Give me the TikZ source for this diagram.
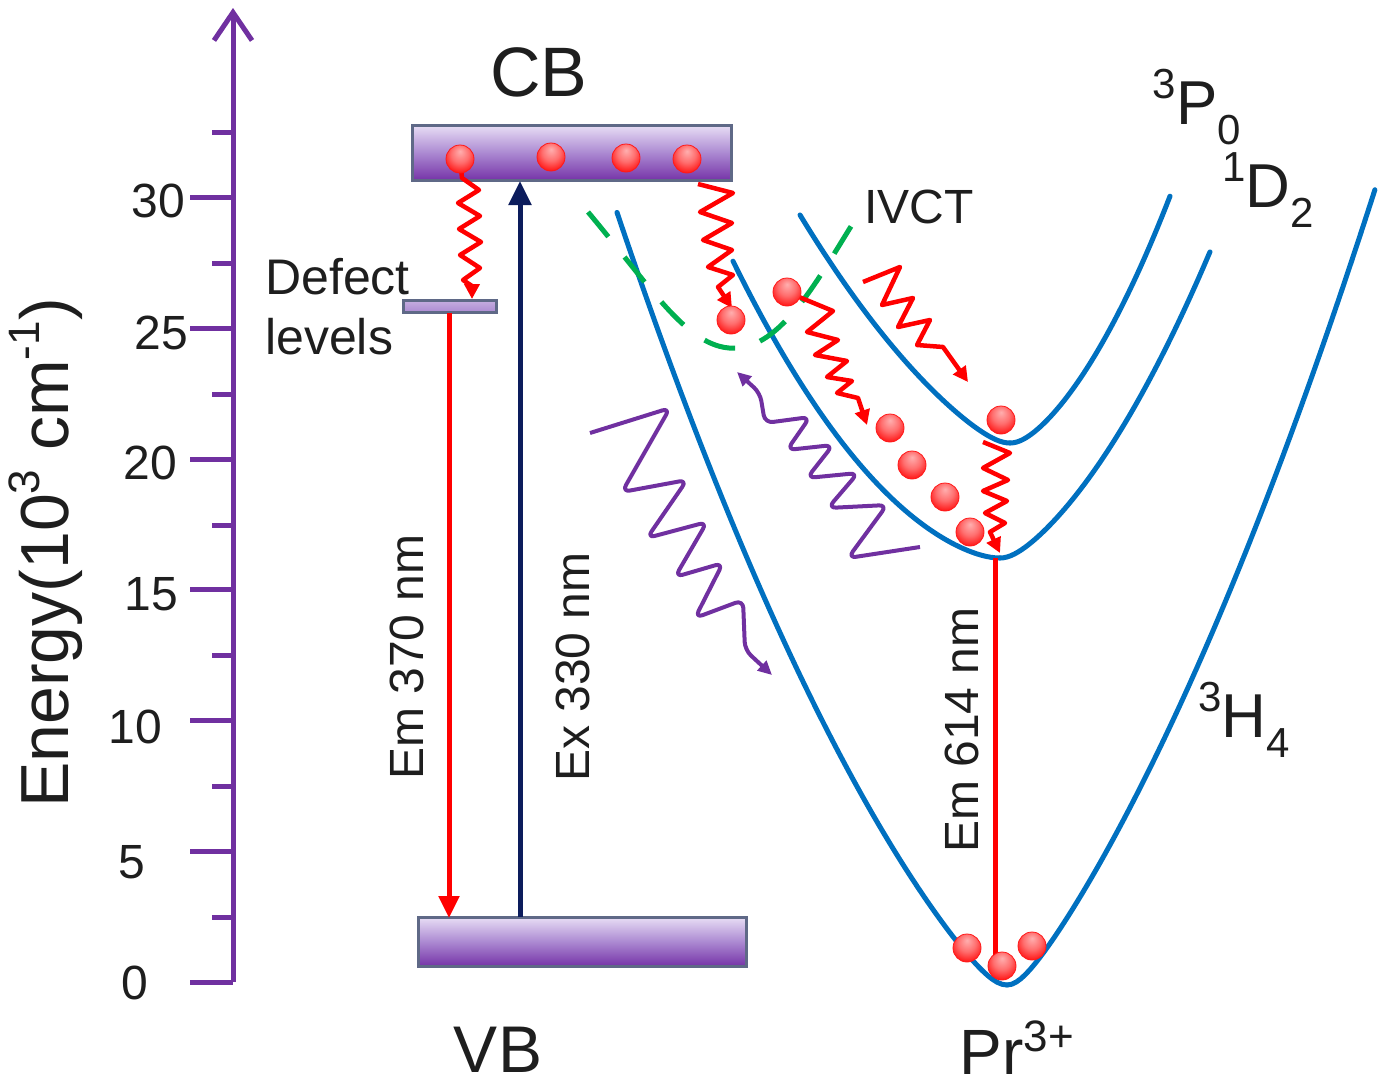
\documentclass[tikz,border=0pt]{standalone}
\usepackage{fontspec}
\setmainfont{Liberation Sans}
\usetikzlibrary{arrows.meta}
\definecolor{axcol}{RGB}{112,48,160}
\definecolor{bcol}{RGB}{0,112,192}
\definecolor{gcol}{RGB}{0,176,80}
\definecolor{navycol}{RGB}{12,28,92}
\definecolor{barborder}{RGB}{95,105,135}
\definecolor{bartop}{RGB}{232,222,245}
\definecolor{barmid}{RGB}{172,138,210}
\definecolor{barbot}{RGB}{118,52,168}
\definecolor{txtcol}{RGB}{30,30,30}
\definecolor{redcol}{RGB}{255,0,0}
\definecolor{dotlight}{RGB}{255,175,175}
\definecolor{dotmid}{RGB}{255,110,110}
\definecolor{dotedge}{RGB}{245,20,20}
\pgfdeclareradialshading{glossy}{\pgfpoint{0bp}{14bp}}{color(0bp)=(dotlight); color(16bp)=(dotmid); color(34bp)=(redcol); color(50bp)=(dotedge)}
\newcommand\fsz[1]{\fontsize{#1}{#1}\selectfont}
\newcommand\upsc[2]{\raisebox{#1}{\fsz{44}#2}}
\begin{document}
\begin{tikzpicture}[x=1pt,y=-1pt,
  band/.style={rectangle,draw=barborder,line width=3pt,top color=bartop,bottom color=barbot,middle color=barmid,inner sep=0pt},
  dotball/.style={circle,inner sep=0pt,minimum size=28pt,shading=glossy,draw=redcol!90!white,line width=0.8pt},
  bcurve/.style={draw=bcol,line width=5pt,line cap=round},
  wred/.style={draw=redcol,line width=4.5pt,line join=round,-{Triangle[length=15pt,width=15pt]}},
  wpurple/.style={draw=axcol,line width=4pt,line join=round,rounded corners=8pt,-{Triangle[length=14pt,width=13pt]}},
  ticklab/.style={text=txtcol,inner sep=0pt,font=\fsz{48}},
  lab/.style={text=txtcol,inner sep=0pt}]
\useasboundingbox (0,0) rectangle (1382,1087);

% ---- axis ----
\coordinate (axbot) at (233,982);
\coordinate (axtop) at (233,8);
\draw[axcol,line width=5pt,-{Straight Barb[length=28pt,width=38pt]}] (axbot) -- (axtop);
\foreach \yy in {982,851,720,589,459,328,197}{\draw[axcol,line width=5pt] (190,\yy) -- (233,\yy);}
\foreach \yy in {917,786,655,525,394,263,132}{\draw[axcol,line width=5pt] (212,\yy) -- (233,\yy);}
\foreach \v/\yy/\xr in {30/201/185,25/333/188,20/463/177,15/594/178,10/727/162,5/862/145,0/983/148}{
  \node[ticklab,anchor=east] (t\v) at (\xr,\yy) {\v};}
\node[lab,rotate=90,anchor=base,font=\fsz{68}] (elab) at (68,553) {Energy(10\upsc{0.42em}{3} cm\upsc{0.42em}{-1})};

% ---- bands ----
\node[band,minimum width=319pt,minimum height=55pt] (cb) at (571.5,152.5) {};
\node[band,minimum width=328pt,minimum height=49pt] (vb) at (582,941.5) {};
\node[band,minimum width=93pt,minimum height=12pt,top color=barmid!70!white,bottom color=barmid] (defect) at (449.5,306.5) {};
\node[lab,font=\fsz{70}] (cbl) at (539,72) {CB};
\node[lab,font=\fsz{66}] (vbl) at (498,1050) {VB};
\node[lab,anchor=base west,font=\fsz{50}] (def1) at (265,294) {Defect};
\node[lab,anchor=base west,font=\fsz{50}] (def2) at (265,354) {levels};

% ---- straight transitions ----
\coordinate (em370s) at (449,313);
\coordinate (em370e) at (449,918);
\coordinate (ex330s) at (520,917);
\coordinate (ex330e) at (520,181);
\draw[redcol,line width=5pt,-{Triangle[length=22pt,width=20pt]}] (em370s) -- (em370e);
\draw[navycol,line width=5pt,-{Triangle[length=24pt,width=22pt]}] (ex330s) -- (ex330e);
\node[lab,rotate=90,font=\fsz{48}] (em370) at (407,657) {Em 370 nm};
\node[lab,rotate=90,font=\fsz{48}] (ex330) at (573,667) {Ex 330 nm};

% ---- Pr curves ----
\draw[bcurve] plot[domain=-3.9:0,samples=80,variable=\u] ({1007+100*\u},{985-110*(sqrt(\u*\u+0.04)-0.2)-24*\u*\u});
\draw[bcurve] plot[domain=0:3.68,samples=80,variable=\u] ({1007+100*\u},{985-135*(sqrt(\u*\u+0.04)-0.2)-24*\u*\u});
\draw[bcurve] plot[domain=-2.67:0,samples=60,variable=\u] ({1000+100*\u},{558-22*(sqrt(\u*\u+0.04)-0.2)-34*\u*\u});
\draw[bcurve] plot[domain=0:2.1,samples=60,variable=\u] ({1000+100*\u},{558-68*(sqrt(\u*\u+0.04)-0.2)-40*\u*\u});
\draw[bcurve] plot[domain=-2.1:0,samples=60,variable=\u] ({1010+100*\u},{443-64*(sqrt(\u*\u+0.04)-0.2)-24*\u*\u});
\draw[bcurve] plot[domain=0:1.6,samples=60,variable=\u] ({1010+100*\u},{443-66*(sqrt(\u*\u+0.04)-0.2)-60*\u*\u});

% IVCT dashed
\draw[gcol,line width=5pt,dash pattern=on 32pt off 26pt] (588,212) .. controls (655,292) and (690,352) .. (738,348) .. controls (785,344) and (822,272) .. (855,220);
\node[lab,font=\fsz{48}] (ivct) at (919,207) {IVCT};

% levels labels
\node[lab] (p0) at (1197,107) {\fsz{62}\raisebox{0.42em}{\fsz{42}3}P\raisebox{-0.32em}{\fsz{42}0}};
\node[lab] (d2) at (1268,190) {\fsz{62}\raisebox{0.42em}{\fsz{42}1}D\raisebox{-0.32em}{\fsz{42}2}};
\node[lab] (h4) at (1244,720) {\fsz{62}\raisebox{0.42em}{\fsz{42}3}H\raisebox{-0.32em}{\fsz{42}4}};
\node[lab,font=\fsz{64}] (pr) at (1017,1048) {Pr\upsc{0.36em}{3+}};

% Em 614
\coordinate (em614s) at (995,558);
\coordinate (em614e) at (995,962);
\draw[redcol,line width=5pt] (em614s) -- (em614e);
\node[lab,rotate=90,font=\fsz{48}] (em614) at (962,730) {Em 614 nm};

% ---- dots (positions) ----
\coordinate (c1) at (460,159); \coordinate (c2) at (551,157);
\coordinate (c3) at (626,158); \coordinate (c4) at (687,159);
\coordinate (q1) at (731,320); \coordinate (q2) at (787,292);
\coordinate (q3) at (890,428); \coordinate (q4) at (912,465);
\coordinate (q5) at (945,497); \coordinate (q6) at (970,532);
\coordinate (q7) at (1001,420);
\coordinate (b1) at (967,948); \coordinate (b2) at (1002,966); \coordinate (b3) at (1032,946);

% ---- red wavy ----
\coordinate (w1e) at (472,299);
\draw[wred] (c1) -- (462,178) -- (479,190) -- (458,203) -- (480,216) -- (459,229) -- (481,242) -- (460,255) -- (480,268) -- (463,280) -- (472,286) -- (w1e);
\coordinate (w2s) at (698,184);
\coordinate (w2e) at (732,308);
\draw[wred] (w2s) -- (733,193) -- (700,212) -- (732,223) -- (703,240) -- (732,250) -- (708,267) -- (733,275) -- (718,287) -- (w2e);
\coordinate (w3e) at (867,425);
\draw[wred] (q2) -- (833,311) -- (807,332) -- (838,340) -- (815,355) -- (847,361) -- (827,377) -- (852,381) -- (837,393) -- (858,398) -- (w3e);
\coordinate (w4s) at (863,282);
\coordinate (w4e) at (968,382);
\draw[wred] (w4s) -- (900,267) -- (882,305) -- (913,298) -- (898,327) -- (930,320) -- (917,345) -- (943,347) -- (w4e);
\coordinate (w5e) at (1000,553);
\draw[wred] (983,442) -- (1010,453) -- (983,468) -- (1008,480) -- (983,491) -- (1007,501) -- (985,513) -- (1005,523) -- (990,532) -- (w5e);

% ---- purple wavy ----
\coordinate (pw1s) at (590,433);
\coordinate (pw1e) at (772,675);
\draw[wpurple] (pw1s) -- (670,408) -- (622,492) -- (687,480) -- (647,538) -- (707,522) -- (675,577) -- (723,563) -- (695,618) -- (743,600) -- (745,650) -- (pw1e);
\coordinate (pw2s) at (920,547);
\coordinate (pw2e) at (737,372);
\draw[wpurple] (pw2s) -- (848,558) -- (887,505) -- (828,508) -- (858,473) -- (807,478) -- (833,445) -- (787,450) -- (810,417) -- (765,423) -- (760,393) -- (pw2e);

% ---- dots drawn on top ----
\foreach \n in {c1,c2,c3,c4,q1,q2,q3,q4,q5,q6,q7,b1,b2,b3}{\node[dotball] (n\n) at (\n) {};}
\end{tikzpicture}
\end{document}
